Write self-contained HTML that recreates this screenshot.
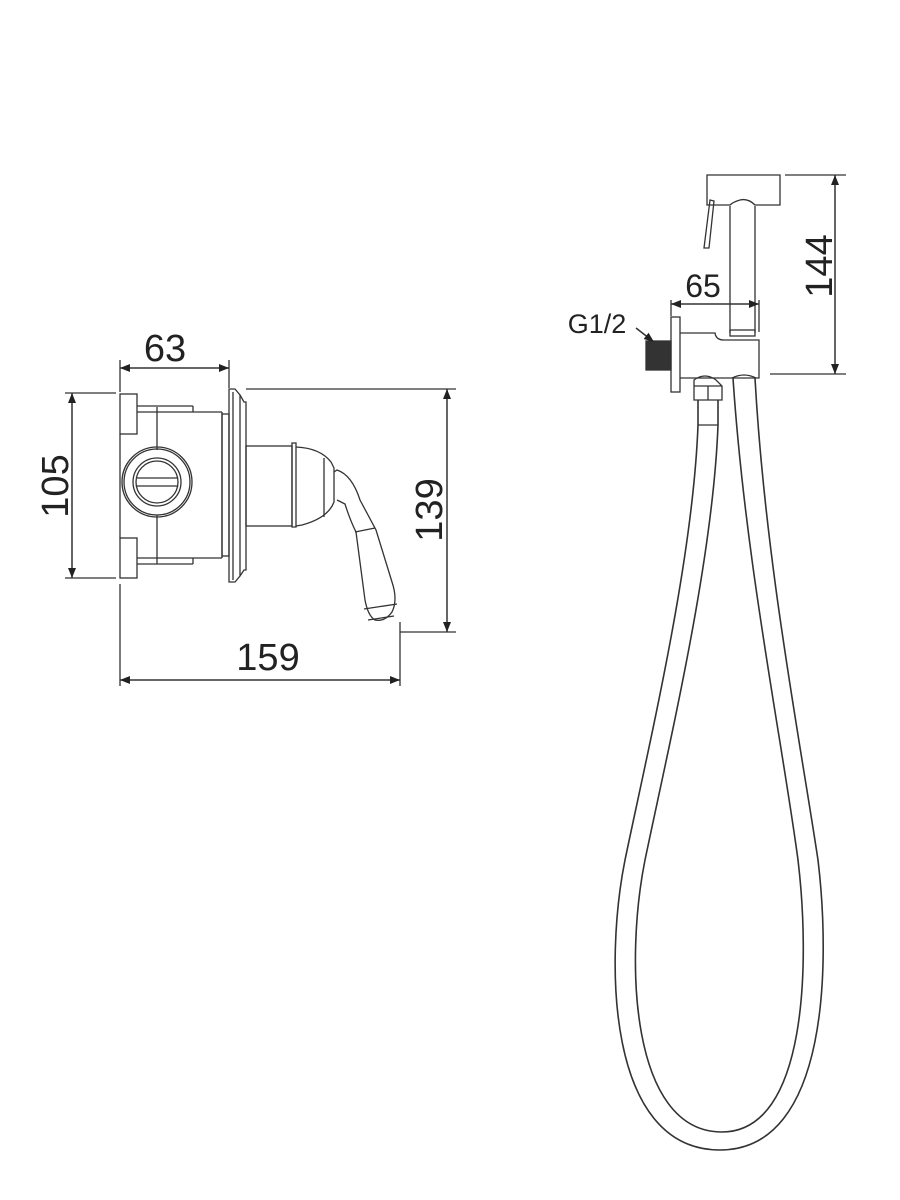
<!DOCTYPE html>
<html><head><meta charset="utf-8"><style>html,body{margin:0;padding:0;background:#fff}svg{display:block}</style></head>
<body>
<svg width="900" height="1200" viewBox="0 0 900 1200" xmlns="http://www.w3.org/2000/svg" font-family="Liberation Sans, sans-serif">
<defs>
<marker id="a" viewBox="0 0 10 10" refX="10" refY="5" markerWidth="18" markerHeight="10" markerUnits="userSpaceOnUse" orient="auto-start-reverse"><path d="M0,1 L10,5 L0,9 Z" fill="#222"/></marker>
</defs>
<g stroke="#333" stroke-width="1.3" fill="none">
<!-- left dimension lines -->
<line x1="120" y1="368" x2="229" y2="368" marker-start="url(#a)" marker-end="url(#a)" stroke-width="1.5"/>
<line x1="120" y1="360" x2="120" y2="392"/><line x1="229" y1="360" x2="229" y2="388"/>
<line x1="65" y1="393" x2="116" y2="393"/><line x1="65" y1="578" x2="116" y2="578"/>
<line x1="72" y1="393" x2="72" y2="578" marker-start="url(#a)" marker-end="url(#a)" stroke-width="1.5"/>
<line x1="246" y1="389" x2="456" y2="389"/><line x1="400" y1="632" x2="456" y2="632"/>
<line x1="447" y1="389" x2="447" y2="632" marker-start="url(#a)" marker-end="url(#a)" stroke-width="1.5"/>
<line x1="120" y1="584" x2="120" y2="686"/><line x1="400" y1="622" x2="400" y2="686"/>
<line x1="120" y1="680" x2="400" y2="680" marker-start="url(#a)" marker-end="url(#a)" stroke-width="1.5"/>
<!-- mixer body -->
<rect x="120" y="394" width="17" height="40"/><rect x="120" y="538" width="17" height="40"/>
<line x1="120" y1="434" x2="120" y2="538"/>
<line x1="137" y1="406" x2="193" y2="406"/><line x1="193" y1="406" x2="193" y2="412"/>
<line x1="137" y1="412" x2="222" y2="412"/><line x1="222" y1="412" x2="222" y2="558"/>
<line x1="137" y1="564" x2="193" y2="564"/><line x1="193" y1="558" x2="193" y2="564"/>
<line x1="137" y1="558" x2="222" y2="558"/>
<rect x="222" y="414" width="7" height="142"/>
<line x1="157" y1="407" x2="157" y2="450"/><line x1="157" y1="515" x2="157" y2="564"/>
<circle cx="157" cy="482" r="35"/><circle cx="157" cy="482" r="33"/>
<circle cx="157" cy="482" r="24"/><circle cx="157" cy="482" r="21"/>
<line x1="137" y1="478" x2="177" y2="478"/><line x1="137" y1="486" x2="177" y2="486"/>
<!-- plate -->
<path d="M229,389 L235,389 L240,395 L240,576 L235,582 L229,582 Z"/>
<path d="M240,395 L244,402 L246,402 L246,570 L244,570 L240,576"/>
<line x1="233" y1="392" x2="233" y2="580"/>
<!-- stem -->
<rect x="246" y="446" width="46" height="80"/>
<path d="M292,446 L292,443 L296,443 L296,527 L292,527 Z"/>
<path d="M296,447 Q320,448 331,462 L334,468 L334,502 Q328,518 302,525 L296,526"/>
<line x1="324" y1="458" x2="324" y2="517"/>
<path d="M334,472 L337,470 Q352,475 360,500 L376,530 L392,582 Q398,600 392,612 Q385,622 375,620 Q368,616 365,600 L356,532 Q350,520 345,504 L337,500"/>
<line x1="355" y1="532" x2="375" y2="528"/><line x1="364" y1="609" x2="397" y2="604"/><line x1="368" y1="620" x2="394" y2="616"/>

<!-- right: head -->
<path d="M707,175 L780,175 L780,205 L755,205 Q748,198 740,200 Q733,202 730,205 L707,205 Z"/>
<line x1="730" y1="206" x2="730" y2="333"/><line x1="755" y1="206" x2="755" y2="333"/>
<rect x="730" y="330" width="25" height="6"/>
<path d="M710,200 L714,201 L709,248 L704,248 Z"/>
<!-- 65 dim -->
<line x1="671" y1="304" x2="759" y2="304" marker-start="url(#a)" marker-end="url(#a)" stroke-width="1.5"/>
<line x1="671" y1="300" x2="671" y2="316"/><line x1="759" y1="300" x2="759" y2="332"/>
<!-- body -->
<rect x="671" y="317" width="9" height="75"/>
<path d="M680,333 L715,333 Q716,340 724,340 L759,340 L759,378 L680,378"/>
<rect x="646" y="341" width="25" height="29" fill="#333"/>
<path d="M694,380 Q705,372 716,380 L722,386 L722,400 L694,400 L694,386 Z"/><line x1="708" y1="386" x2="708" y2="400"/><line x1="694" y1="386" x2="722" y2="386"/>
<path d="M732,378 Q744,372 756,378"/>
<line x1="698" y1="425" x2="718" y2="425"/>
<!-- 144 dim -->
<line x1="785" y1="175" x2="846" y2="175"/><line x1="770" y1="374" x2="846" y2="374"/>
<line x1="835" y1="175" x2="835" y2="374" marker-start="url(#a)" marker-end="url(#a)" stroke-width="1.5"/>
<!-- G1/2 arrow -->
<line x1="636" y1="328" x2="654" y2="342" marker-end="url(#a)" stroke-width="1.5"/>
<!-- hose -->
<path d="M698,400 L698,425 C693,560 650,740 625,860 C605,960 606,1150 720,1150 C830,1150 830,960 818,860 C800,740 765,560 755,378" stroke-width="1.6"/>
<path d="M718,400 L718,425 C713,560 670,740 645,860 C625,960 630,1132 722,1132 C808,1132 810,960 798,860 C782,740 745,560 733,378" stroke-width="1.6"/>
</g>
<g fill="#222" font-size="38">
<text x="165" y="361" text-anchor="middle">63</text>
<text x="268" y="670" text-anchor="middle">159</text>
<text transform="translate(68,486) rotate(-90)" text-anchor="middle">105</text>
<text transform="translate(442,510) rotate(-90)" text-anchor="middle">139</text>
<text transform="translate(832,266) rotate(-90)" text-anchor="middle">144</text>
<text x="703" y="297" text-anchor="middle" font-size="32">65</text>
<text x="597" y="333" text-anchor="middle" font-size="27">G1/2</text>
</g>
</svg>
</body></html>
